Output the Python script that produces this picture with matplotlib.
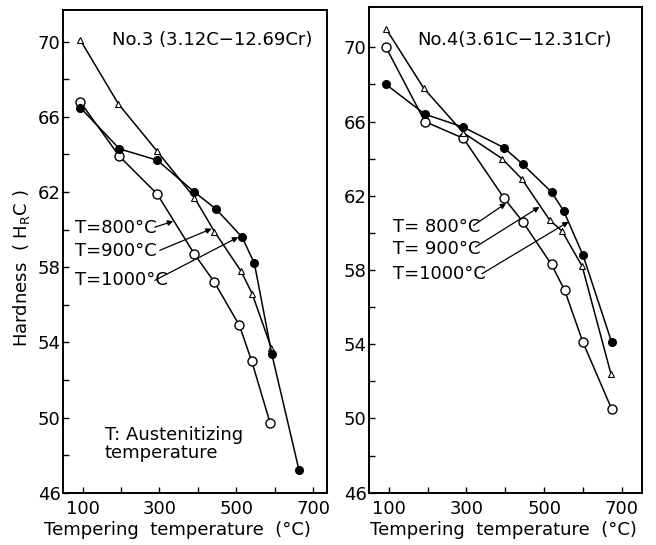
import matplotlib
matplotlib.use("Agg")
import matplotlib.pyplot as plt

# No.3 (3.12C-12.69Cr)
no3_t800_x = [94, 196, 294, 391, 443, 508, 540, 588]
no3_t800_y = [66.8, 63.9, 61.9, 58.7, 57.2, 54.9, 53.0, 49.7]
no3_t900_x = [94, 193, 293, 391, 443, 512, 541, 591]
no3_t900_y = [70.1, 66.7, 64.2, 61.7, 59.9, 57.8, 56.6, 53.7]
no3_t1000_x = [94, 196, 294, 391, 447, 515, 547, 592, 663]
no3_t1000_y = [66.5, 64.3, 63.7, 62.0, 61.1, 59.6, 58.2, 53.4, 47.2]

# No.4 (3.61C-12.31Cr)
no4_t800_x = [93, 193, 292, 396, 445, 519, 553, 600, 674]
no4_t800_y = [70.0, 66.0, 65.1, 61.9, 60.6, 58.3, 56.9, 54.1, 50.5]
no4_t900_x = [93, 190, 292, 392, 443, 514, 546, 598, 672]
no4_t900_y = [71.0, 67.8, 65.4, 64.0, 62.9, 60.7, 60.1, 58.2, 52.4]
no4_t1000_x = [93, 193, 292, 396, 445, 519, 550, 600, 674]
no4_t1000_y = [68.0, 66.4, 65.7, 64.6, 63.7, 62.2, 61.2, 58.8, 54.1]

xtick_labels = ["100", "", "300", "", "500", "", "700"]
ytick_labels = ["46", "", "50", "", "54", "", "58", "", "62", "", "66", "", "70"]

fig = plt.figure(figsize=(6.56, 5.45), dpi=100)
ax1 = fig.add_axes([0.0965, 0.096, 0.4015, 0.886])
ax2 = fig.add_axes([0.563, 0.096, 0.4157, 0.892])

lw = 1.1
fs = 13

# T=800 open circles, T=900 open triangles, T=1000 filled circles
ax1.plot(no3_t800_x, no3_t800_y, color="black", lw=lw, marker="o", ms=6.5,
         mfc="white", mec="black", mew=1.0)
ax1.plot(no3_t900_x, no3_t900_y, color="black", lw=lw, marker="^", ms=5,
         mfc="white", mec="black", mew=0.8)
ax1.plot(no3_t1000_x, no3_t1000_y, color="black", lw=lw, marker="o", ms=5.5,
         mfc="black", mec="black")

ax2.plot(no4_t800_x, no4_t800_y, color="black", lw=lw, marker="o", ms=6.5,
         mfc="white", mec="black", mew=1.0)
ax2.plot(no4_t900_x, no4_t900_y, color="black", lw=lw, marker="^", ms=5,
         mfc="white", mec="black", mew=0.8)
ax2.plot(no4_t1000_x, no4_t1000_y, color="black", lw=lw, marker="o", ms=5.5,
         mfc="black", mec="black")

ax1.set_xlim(50, 735)
ax1.set_ylim(46, 71.7)
ax2.set_xlim(50, 752)
ax2.set_ylim(46, 72.2)

for ax in (ax1, ax2):
    ax.set_xticks(range(100, 800, 100))
    ax.set_xticklabels(xtick_labels)
    ax.set_yticks(range(46, 72, 2))
    ax.set_yticklabels(ytick_labels)
    ax.tick_params(direction="in", length=4, width=1.0, labelsize=fs)
    ax.tick_params(axis="y", pad=2)
    ax.tick_params(axis="x", pad=5)
    for s in ax.spines.values():
        s.set_linewidth(1.4)

arrow = dict(arrowstyle="-|>", color="black", lw=0.9,
             mutation_scale=8, shrinkA=0, shrinkB=0)

# left panel labels
ax1.text(436, 70.1, "No.3 (3.12C\u221212.69Cr)", ha="center", va="center", fontsize=fs)
ax1.text(80, 60.1, "T=800°C", ha="left", va="center", fontsize=fs)
ax1.text(80, 58.85, "T=900°C", ha="left", va="center", fontsize=fs)
ax1.text(80, 57.3, "T=1000°C", ha="left", va="center", fontsize=fs)
ax1.annotate("", xy=(336, 60.45), xytext=(288, 60.13), arrowprops=arrow)
ax1.annotate("", xy=(436, 60.05), xytext=(301, 58.9), arrowprops=arrow)
ax1.annotate("", xy=(505, 59.6), xytext=(288, 57.3), arrowprops=arrow)
ax1.text(158, 48.6, "T: Austenitizing\ntemperature", ha="left", va="center",
         fontsize=fs, linespacing=1.0)

# right panel labels
ax2.text(423, 70.4, "No.4(3.61C\u221212.31Cr)", ha="center", va="center", fontsize=fs)
ax2.text(110, 60.3, "T= 800°C", ha="left", va="center", fontsize=fs)
ax2.text(110, 59.15, "T= 900°C", ha="left", va="center", fontsize=fs)
ax2.text(110, 57.8, "T=1000°C", ha="left", va="center", fontsize=fs)
ax2.annotate("", xy=(402, 61.6), xytext=(318, 60.4), arrowprops=arrow)
ax2.annotate("", xy=(488, 61.4), xytext=(323, 59.24), arrowprops=arrow)
ax2.annotate("", xy=(563, 60.6), xytext=(340, 57.8), arrowprops=arrow)

fig.text(0.033, 0.508, r"Hardness  ( H$_{\mathrm{R}}$C )", rotation=90,
         ha="center", va="center", fontsize=fs)
fig.text(0.27, 0.027, "Tempering  temperature  (°C)", ha="center", va="center", fontsize=fs)
fig.text(0.767, 0.027, "Tempering  temperature  (°C)", ha="center", va="center", fontsize=fs)

fig.savefig("out.png", dpi=100)
